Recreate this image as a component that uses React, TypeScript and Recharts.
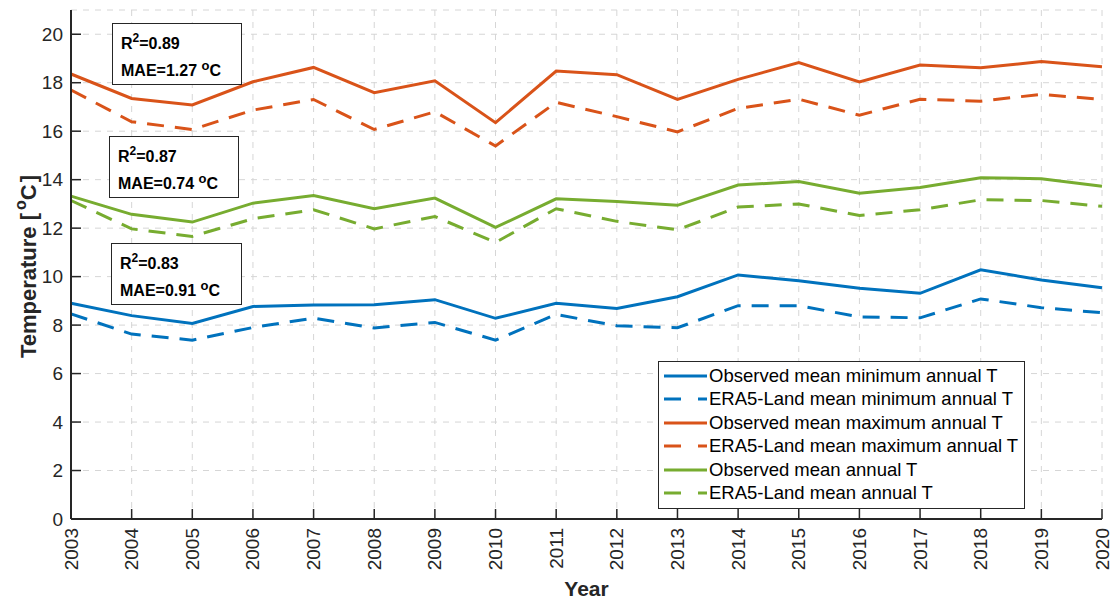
import React from "react";
import { CartesianGrid, Legend, Line, LineChart, XAxis, YAxis } from "recharts";

const years = [2003, 2004, 2005, 2006, 2007, 2008, 2009, 2010, 2011, 2012, 2013, 2014, 2015, 2016, 2017, 2018, 2019, 2020];
const obsMin = [8.9, 8.39, 8.07, 8.77, 8.83, 8.84, 9.05, 8.28, 8.9, 8.69, 9.17, 10.07, 9.83, 9.52, 9.31, 10.28, 9.86, 9.54];
const eraMin = [8.46, 7.63, 7.38, 7.9, 8.29, 7.88, 8.11, 7.38, 8.44, 7.97, 7.89, 8.8, 8.8, 8.34, 8.3, 9.08, 8.72, 8.51];
const obsMax = [18.36, 17.35, 17.08, 18.04, 18.63, 17.59, 18.08, 16.35, 18.48, 18.33, 17.31, 18.14, 18.83, 18.03, 18.73, 18.62, 18.87, 18.66];
const eraMax = [17.7, 16.39, 16.07, 16.87, 17.31, 16.07, 16.8, 15.39, 17.19, 16.6, 15.97, 16.94, 17.32, 16.66, 17.32, 17.24, 17.52, 17.31];
const obsMean = [13.32, 12.57, 12.25, 13.03, 13.35, 12.8, 13.24, 12.03, 13.21, 13.1, 12.94, 13.78, 13.92, 13.44, 13.68, 14.08, 14.04, 13.73];
const eraMean = [13.14, 11.97, 11.66, 12.39, 12.76, 11.97, 12.48, 11.41, 12.8, 12.28, 11.93, 12.87, 13.0, 12.52, 12.76, 13.17, 13.14, 12.9];
const yTicks = [0, 2, 4, 6, 8, 10, 12, 14, 16, 18, 20];

const BLUE = "#0072BD";
const ORANGE = "#D95319";
const GREEN = "#77AC30";
const AXIS = "#262626";
const FONT = "'Liberation Sans', Arial, sans-serif";
const DASH = "17 11";

const series = [
  { key: "obsMin", name: "Observed mean minimum annual T", color: BLUE, dashed: false },
  { key: "eraMin", name: "ERA5-Land mean minimum annual T", color: BLUE, dashed: true },
  { key: "obsMax", name: "Observed mean maximum annual T", color: ORANGE, dashed: false },
  { key: "eraMax", name: "ERA5-Land mean maximum annual T", color: ORANGE, dashed: true },
  { key: "obsMean", name: "Observed mean annual T", color: GREEN, dashed: false },
  { key: "eraMean", name: "ERA5-Land mean annual T", color: GREEN, dashed: true },
];

const stats = [
  { r2: "0.89", mae: "1.27" },
  { r2: "0.87", mae: "0.74" },
  { r2: "0.83", mae: "0.91" },
];
const statBoxes = [
  { left: 112, top: 23, width: 130 },
  { left: 109, top: 136, width: 130 },
  { left: 111, top: 243, width: 131 },
];

const data = years.map((year, i) => ({
  year,
  obsMin: obsMin[i],
  eraMin: eraMin[i],
  obsMax: obsMax[i],
  eraMax: eraMax[i],
  obsMean: obsMean[i],
  eraMean: eraMean[i],
}));

const BottomTick = ({ x, y, payload }: any) => (
  <g>
    <line x1={x} x2={x} y1={y} y2={y - 10} stroke={AXIS} strokeWidth={1.5} />
    <text
      transform={`translate(${x},${y + 9}) rotate(-90)`}
      textAnchor="end"
      dominantBaseline="central"
      fontSize={19}
      fontFamily={FONT}
      fill={AXIS}
    >
      {payload.value}
    </text>
  </g>
);

const TopTick = ({ x, y }: any) => (
  <line x1={x} x2={x} y1={y} y2={y + 10} stroke={AXIS} strokeWidth={1.5} />
);

const LeftTick = ({ x, y, payload }: any) => (
  <g>
    <line x1={x} x2={x + 10} y1={y} y2={y} stroke={AXIS} strokeWidth={1.5} />
    <text x={x - 8} y={y} textAnchor="end" dominantBaseline="central" fontSize={19} fontFamily={FONT} fill={AXIS}>
      {payload.value}
    </text>
  </g>
);

const RightTick = ({ x, y }: any) => (
  <line x1={x} x2={x - 10} y1={y} y2={y} stroke={AXIS} strokeWidth={1.5} />
);

const LegendBox = () => (
  <div
    style={{
      width: 365,
      height: 144,
      border: `1px solid ${AXIS}`,
      background: "#fff",
      boxSizing: "content-box",
      paddingTop: 2,
      fontFamily: FONT,
      fontSize: 18.5,
      color: "#000",
    }}
  >
    {series.map((s) => (
      <div key={s.key} style={{ height: 23.5, display: "flex", alignItems: "center" }}>
        <svg width={50} height={10} style={{ flex: "none" }}>
          <line
            x1={5}
            x2={48}
            y1={5}
            y2={5}
            stroke={s.color}
            strokeWidth={3}
            strokeDasharray={s.dashed ? "17 17" : undefined}
          />
        </svg>
        <span style={{ whiteSpace: "nowrap" }}>{s.name}</span>
      </div>
    ))}
  </div>
);

export default function App() {
  return (
    <div style={{ position: "absolute", left: 0, top: 0, width: 1111, height: 600, background: "#fff" }}>
      <LineChart width={1111} height={600} data={data} margin={{ top: 10, right: 9, bottom: 0, left: 0 }}>
        <CartesianGrid
          xAxisId="bottom"
          yAxisId="left"
          stroke="#d6d6d6"
          strokeDasharray="6 6"
          strokeWidth={1}
        />
        <XAxis
          xAxisId="bottom"
          dataKey="year"
          type="number"
          domain={[2003, 2020]}
          ticks={years}
          interval={0}
          height={81}
          tickSize={0}
          tickMargin={0}
          tickLine={false}
          axisLine={{ stroke: AXIS, strokeWidth: 2 }}
          tick={<BottomTick />}
          label={(props: any) => {
            const vb = props.viewBox;
            return (
              <text
                x={vb.x + vb.width / 2}
                y={vb.y + 69}
                textAnchor="middle"
                dominantBaseline="central"
                fontSize={21}
                fontWeight="bold"
                fontFamily={FONT}
                fill={AXIS}
              >
                Year
              </text>
            );
          }}
        />
        <XAxis
          xAxisId="top"
          orientation="top"
          dataKey="year"
          type="number"
          domain={[2003, 2020]}
          ticks={years}
          interval={0}
          height={0}
          tickSize={0}
          tickMargin={0}
          tickLine={false}
          axisLine={{ stroke: AXIS, strokeWidth: 2 }}
          tick={<TopTick />}
        />
        <YAxis
          yAxisId="left"
          domain={[0, 21]}
          ticks={yTicks}
          interval={0}
          width={71}
          tickSize={0}
          tickMargin={0}
          tickLine={false}
          axisLine={{ stroke: AXIS, strokeWidth: 2 }}
          tick={<LeftTick />}
          label={(props: any) => {
            const vb = props.viewBox;
            const cy = vb.y + vb.height / 2 + 2;
            return (
              <text
                transform={`translate(28,${cy}) rotate(-90)`}
                textAnchor="middle"
                dominantBaseline="central"
                fontSize={22}
                fontWeight="bold"
                fontFamily={FONT}
                fill={AXIS}
              >
                <tspan>Temperature [</tspan>
                <tspan dx={3} dy={-8} fontSize={16}>o</tspan>
                <tspan dy={8}>C</tspan>
                <tspan dx={2}>]</tspan>
              </text>
            );
          }}
        />
        <YAxis
          yAxisId="right"
          orientation="right"
          domain={[0, 21]}
          ticks={yTicks}
          interval={0}
          width={0}
          tickSize={0}
          tickMargin={0}
          tickLine={false}
          axisLine={{ stroke: AXIS, strokeWidth: 2 }}
          tick={<RightTick />}
        />
        {series.map((s) => (
          <Line
            key={s.key}
            xAxisId="bottom"
            yAxisId="left"
            type="linear"
            dataKey={s.key}
            name={s.name}
            stroke={s.color}
            strokeWidth={3}
            strokeDasharray={s.dashed ? DASH : undefined}
            dot={false}
            activeDot={false}
            isAnimationActive={false}
          />
        ))}
        <Legend
          layout="vertical"
          align="center"
          verticalAlign="middle"
          content={<LegendBox />}
          wrapperStyle={{ left: 658, top: 361, width: "auto", height: "auto" }}
        />
      </LineChart>
      {stats.map((st, i) => (
        <div
          key={i}
          style={{
            position: "absolute",
            left: statBoxes[i].left,
            top: statBoxes[i].top,
            width: statBoxes[i].width,
            height: 62,
            boxSizing: "border-box",
            border: `1px solid ${AXIS}`,
            background: "#fff",
            fontFamily: FONT,
            fontWeight: "bold",
            fontSize: 16,
            color: "#000",
          }}
        >
          <div style={{ position: "absolute", left: 8, top: 11, lineHeight: "18px", whiteSpace: "nowrap" }}>
            R<span style={{ fontSize: 12, position: "relative", top: -7 }}>2</span>={st.r2}
          </div>
          <div style={{ position: "absolute", left: 8, top: 38, lineHeight: "18px", whiteSpace: "nowrap" }}>
            MAE={st.mae} <span style={{ fontSize: 13, position: "relative", top: -6 }}>o</span>C
          </div>
        </div>
      ))}
    </div>
  );
}
